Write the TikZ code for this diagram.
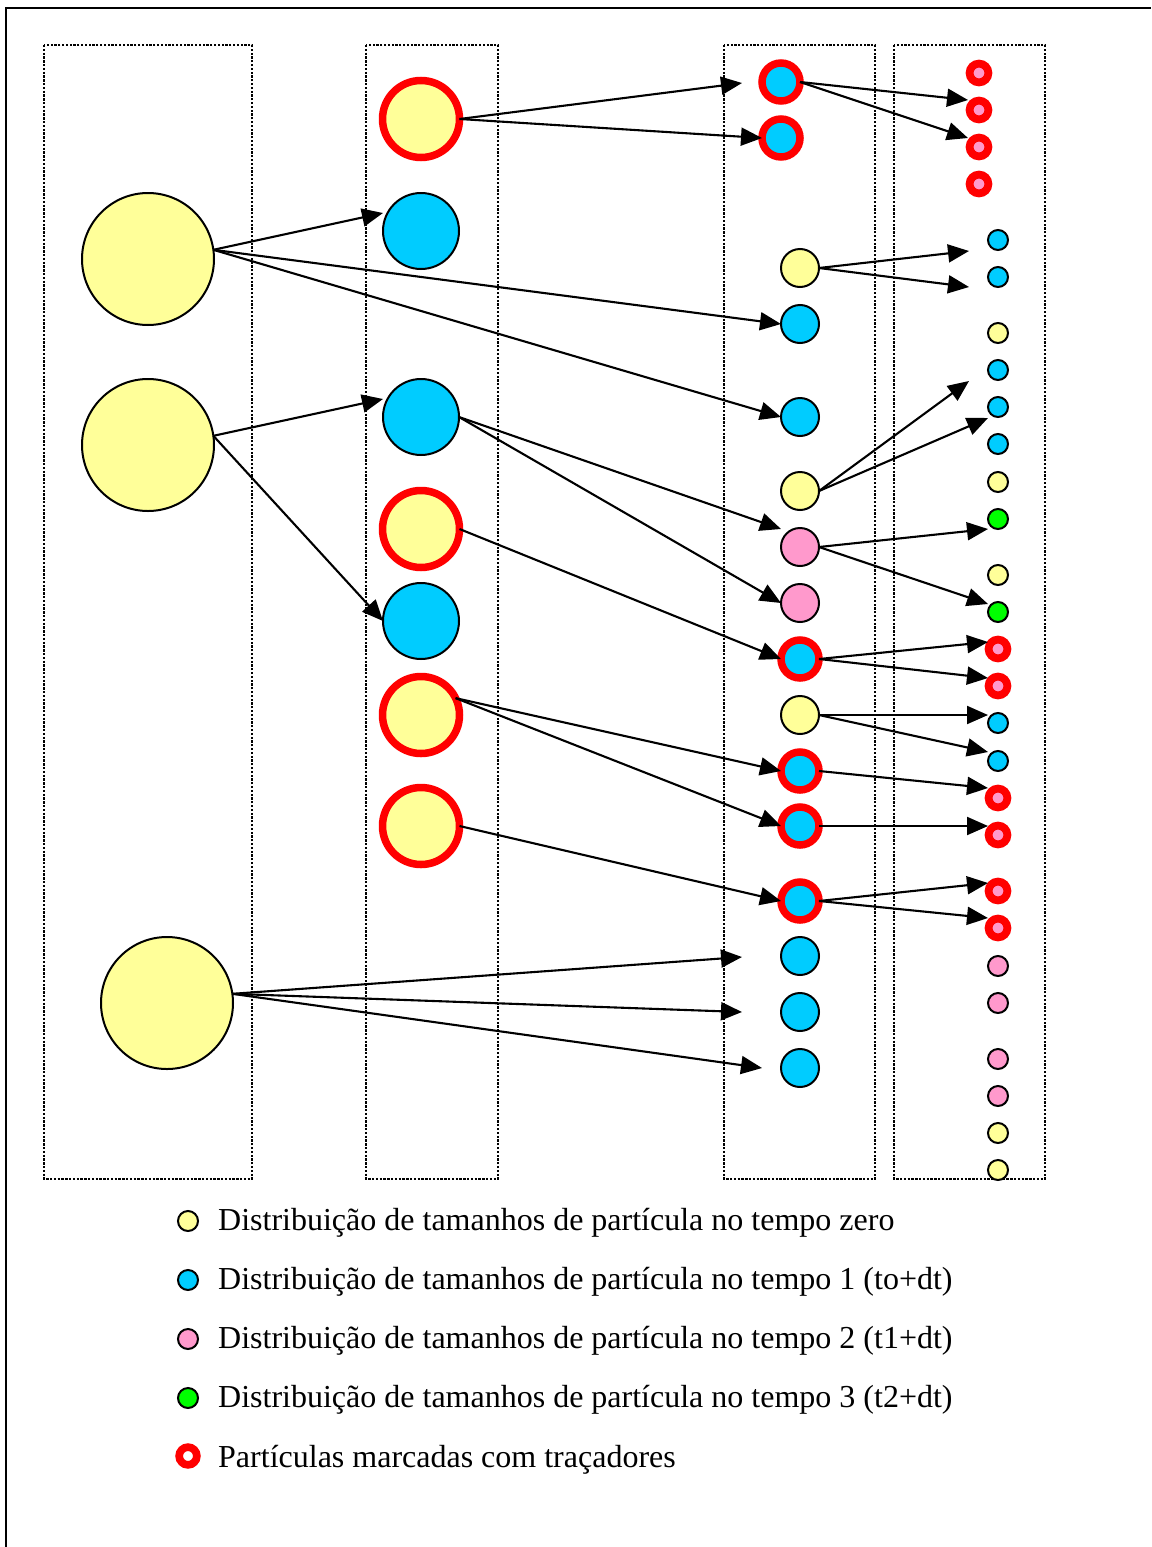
\documentclass[tikz,border=0pt]{standalone}
\usepackage{fontspec}
\setmainfont{Liberation Serif}
\usetikzlibrary{arrows.meta}
\definecolor{pyellow}{HTML}{FFFF99}
\definecolor{pblue}{HTML}{00CCFF}
\definecolor{ppink}{HTML}{FF99CC}
\definecolor{pgreen}{HTML}{00FF00}
\definecolor{pred}{HTML}{FF0000}
\tikzset{
  particle/.style={circle, draw=black, line width=2pt, inner sep=0pt, outer sep=0pt},
  pbig/.style={particle, minimum size=132pt, fill=pyellow},
  pmid/.style={particle, minimum size=76pt},
  pmidtag/.style={particle, draw=pred, line width=7.5pt, minimum size=77pt, fill=pyellow},
  psml/.style={particle, minimum size=38pt},
  psmltag/.style={particle, draw=pred, line width=7.5pt, minimum size=38pt, fill=pblue},
  ptiny/.style={particle, minimum size=20pt},
  ptinytag/.style={particle, draw=pred, line width=7.8pt, minimum size=18.8pt, fill=ppink},
  flow/.style={line width=2.1pt, -{Triangle[length=21pt,width=18pt]}},
  column/.style={line width=2.6pt, dash pattern=on 2.3pt off 1.5pt},
  legtext/.style={anchor=base west, inner sep=0pt, font=\fontsize{32}{38}\selectfont},
}
\begin{document}
\begin{tikzpicture}[x=1pt,y=-1pt]
\useasboundingbox (0,0) rectangle (1151,1547);
% page frame
\draw[line width=2.6pt] (6,1547) -- (6,8) -- (1151,8);
% dotted columns
\draw[column] (44,45) rectangle (252,1179);
\draw[column] (366,45) rectangle (498,1179);
\draw[column] (724,45) rectangle (875,1179);
\draw[column] (894,45) rectangle (1045,1179);

% column 1: initial particles
\node[pbig] (c1a) at (148,259) {};
\node[pbig] (c1b) at (148,445) {};
\node[pbig] (c1c) at (167,1003) {};

% column 2
\node[pmidtag] (c2a) at (421,119) {};
\node[pmid, fill=pblue] (c2b) at (421,231) {};
\node[pmid, fill=pblue] (c2c) at (421,417) {};
\node[pmidtag] (c2d) at (421,529) {};
\node[pmid, fill=pblue] (c2e) at (421,621) {};
\node[pmidtag] (c2f) at (421,715) {};
\node[pmidtag] (c2g) at (421,826) {};

% column 3
\node[psmltag] (c3a) at (781,82) {};
\node[psmltag] (c3b) at (781,138) {};
\node[psml, fill=pyellow] (c3c) at (800,268) {};
\node[psml, fill=pblue] (c3d) at (800,324) {};
\node[psml, fill=pblue] (c3e) at (800,417) {};
\node[psml, fill=pyellow] (c3f) at (800,491) {};
\node[psml, fill=ppink] (c3g) at (800,547) {};
\node[psml, fill=ppink] (c3h) at (800,603) {};
\node[psmltag] (c3i) at (800,659) {};
\node[psml, fill=pyellow] (c3j) at (800,715) {};
\node[psmltag] (c3k) at (800,771) {};
\node[psmltag] (c3l) at (800,826) {};
\node[psmltag] (c3m) at (800,901) {};
\node[psml, fill=pblue] (c3n) at (800,956) {};
\node[psml, fill=pblue] (c3o) at (800,1012) {};
\node[psml, fill=pblue] (c3p) at (800,1068) {};

% column 4
\node[ptinytag] (c4a) at (979,73) {};
\node[ptinytag] (c4b) at (979,110) {};
\node[ptinytag] (c4c) at (979,147) {};
\node[ptinytag] (c4d) at (979,184) {};
\node[ptiny, fill=pblue] (c4e) at (998,240) {};
\node[ptiny, fill=pblue] (c4f) at (998,277) {};
\node[ptiny, fill=pyellow] (c4g) at (998,333) {};
\node[ptiny, fill=pblue] (c4h) at (998,370) {};
\node[ptiny, fill=pblue] (c4i) at (998,407) {};
\node[ptiny, fill=pblue] (c4j) at (998,444) {};
\node[ptiny, fill=pyellow] (c4k) at (998,482) {};
\node[ptiny, fill=pgreen] (c4l) at (998,519) {};
\node[ptiny, fill=pyellow] (c4m) at (998,575) {};
\node[ptiny, fill=pgreen] (c4n) at (998,612) {};
\node[ptinytag] (c4o) at (998,649) {};
\node[ptinytag] (c4p) at (998,686) {};
\node[ptiny, fill=pblue] (c4q) at (998,723) {};
\node[ptiny, fill=pblue] (c4r) at (998,761) {};
\node[ptinytag] (c4s) at (998,798) {};
\node[ptinytag] (c4t) at (998,835) {};
\node[ptinytag] (c4u) at (998,891) {};
\node[ptinytag] (c4v) at (998,928) {};
\node[ptiny, fill=ppink] (c4w) at (998,966) {};
\node[ptiny, fill=ppink] (c4x) at (998,1003) {};
\node[ptiny, fill=ppink] (c4y) at (998,1059) {};
\node[ptiny, fill=ppink] (c4z) at (998,1096) {};
\node[ptiny, fill=pyellow] (c4aa) at (998,1133) {};
\node[ptiny, fill=pyellow] (c4ab) at (998,1170) {};

% arrow tips that stop short of a particle
\coordinate (t1) at (742,83);
\coordinate (t2) at (968,100);
\coordinate (t3) at (968,138);
\coordinate (t4) at (383,213);
\coordinate (t5) at (383,399);
\coordinate (t6) at (781,529);
\coordinate (t7) at (742,957);
\coordinate (t8) at (742,1012);
\coordinate (t23) at (762,1068);
\coordinate (t9) at (969,251);
\coordinate (t10) at (969,287);
\coordinate (t11) at (969,381);
\coordinate (t12) at (988,418);
\coordinate (t13) at (988,529);
\coordinate (t14) at (988,604);
\coordinate (t15) at (988,642);
\coordinate (t16) at (988,678);
\coordinate (t17) at (988,715);
\coordinate (t18) at (988,752);
\coordinate (t19) at (988,788);
\coordinate (t20) at (988,826);
\coordinate (t21) at (988,883);
\coordinate (t22) at (988,918);

% column 1 -> column 2 / 3
\draw[flow] (c1a.8) -- (t4);
\draw[flow] (c1a.8) -- (c3d.west);
\draw[flow] (c1a.8) -- (c3e.west);
\draw[flow] (c1b.8) -- (t5);
\draw[flow] (c1b.8) -- (c2e.west);
\draw[flow] (c1c.8) -- (t7);
\draw[flow] (c1c.8) -- (t8);
\draw[flow] (c1c.8) -- (t23);

% column 2 -> column 3
\draw[flow] (c2a.0) -- (t1);
\draw[flow] (c2a.0) -- (c3b.west);
\draw[flow] (c2c.0) -- (t6);
\draw[flow] (c2c.0) -- (c3h.west);
\draw[flow] (c2d.0) -- (c3i.west);
\draw[flow] (c2f.26) -- (c3k.west);
\draw[flow] (c2f.26) -- (c3l.west);
\draw[flow] (c2g.0) -- (c3m.west);

% column 3 -> column 4
\draw[flow] (c3a.0) -- (t2);
\draw[flow] (c3a.0) -- (t3);
\draw[flow] (c3c.0) -- (t9);
\draw[flow] (c3c.0) -- (t10);
\draw[flow] (c3f.0) -- (t11);
\draw[flow] (c3f.0) -- (t12);
\draw[flow] (c3g.0) -- (t13);
\draw[flow] (c3g.0) -- (t14);
\draw[flow] (c3i.0) -- (t15);
\draw[flow] (c3i.0) -- (t16);
\draw[flow] (c3j.0) -- (t17);
\draw[flow] (c3j.0) -- (t18);
\draw[flow] (c3k.0) -- (t19);
\draw[flow] (c3l.0) -- (t20);
\draw[flow] (c3m.0) -- (t21);
\draw[flow] (c3m.0) -- (t22);

% legend
\node[ptiny, fill=pyellow] (k1) at (188,1221) {};
\node[ptiny, fill=pblue] (k2) at (188,1280) {};
\node[ptiny, fill=ppink] (k3) at (188,1339) {};
\node[ptiny, fill=pgreen] (k4) at (188,1398) {};
\node[particle, draw=pred, line width=7.7pt, minimum size=17.7pt, fill=white] (k5) at (188,1456) {};
\node[legtext] (l1) at (218,1230) {Distribuição de tamanhos de partícula no tempo zero};
\node[legtext] (l2) at (218,1289) {Distribuição de tamanhos de partícula no tempo 1 (to+dt)};
\node[legtext] (l3) at (218,1348) {Distribuição de tamanhos de partícula no tempo 2 (t1+dt)};
\node[legtext] (l4) at (218,1407) {Distribuição de tamanhos de partícula no tempo 3 (t2+dt)};
\node[legtext] (l5) at (218,1467) {Partículas marcadas com traçadores};
\end{tikzpicture}
\end{document}
